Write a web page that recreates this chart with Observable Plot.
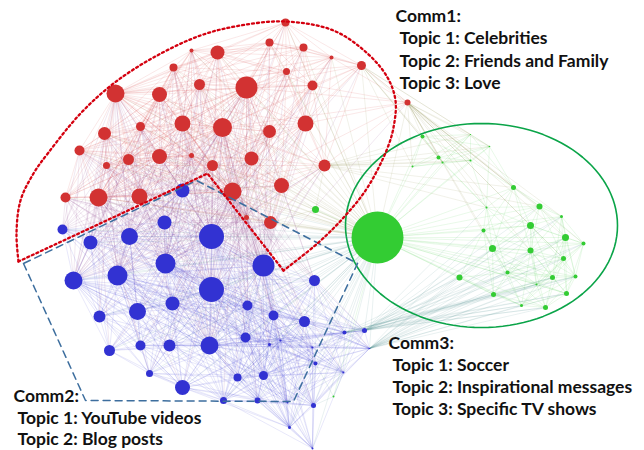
<!DOCTYPE html>
<html><head><meta charset="utf-8">
<script src="https://cdn.jsdelivr.net/npm/d3@7"></script>
<script src="https://cdn.jsdelivr.net/npm/@observablehq/plot@0.6"></script>
<style>body{margin:0;background:#fff}</style>
</head><body><div id="chart"></div>
<script>
// Node layout [x, y, radius] (pixel space of the 644x450 figure)
const comm1Nodes = [[285,22,4],[269,42,4],[303,47,4],[191,50,2],[217,52,7],[331,57,2],[361,65,4.5],[173,67,4],[286,71,3.5],[246,87,11],[199,84,5.5],[312,85,5],[115,93,9],[159,94,7.5],[407,102,3],[182,123,8],[222,127,9.5],[305,123,8],[269,131,6.5],[140,126,4.5],[104,133,6.5],[79,150,5],[128,159,5.5],[159,156,7.5],[191,155,2.5],[212,165,5.5],[251,158,7],[324,165,6],[106,165,3.5],[65,197,5],[98,197,9],[139,196,8],[232,191,9],[281,185,7.5],[246,217,2.5],[270,222,6.5]];
const comm2Nodes = [[182,190,7],[62,229,5],[164,222,7],[90,242,7],[129,236,8.5],[211,236,12.5],[165,263,10],[263,265,11],[117,275,10],[73,280,9],[211,289,12.5],[314,280,5.5],[99,316,6],[137,311,8.5],[172,303,7],[247,305,5],[273,315,5],[304,321,5.5],[109,350,5.5],[140,345,5],[169,345,6],[209,345,9],[245,337,5],[149,373,3.5],[182,387,7.5],[237,377,4],[263,375,4.5],[223,400,3.5],[257,400,3],[313,405,2.5],[344,332,2],[364,330,2.5],[269,344,1.5],[280,340,1],[315,363,2],[343,372,1],[312,347,1],[287,402,1],[289,427,1.5],[312,448,1],[369,348,0.8]];
const comm3Nodes = [[377,237,26],[315,209,3.5],[422,136,2],[438,157,2],[412,166,1],[442,162,1],[470,160,1],[489,146,0.8],[470,134,0.6],[513,187,2.5],[539,206,3],[486,207,1],[561,216,1.5],[530,225,3.5],[483,230,2],[565,237,3.5],[583,243,2],[492,248,3.5],[530,250,3],[563,258,2.5],[507,272,2],[552,277,2.5],[575,276,2],[459,277,3],[536,284,1],[493,294,2.5],[566,293,2.5],[521,305,1.5],[545,307,2.5],[333,396,1]];

const commColors = ["#d23232", "#3232d2", "#33cc33"];

// Community outlines
const comm1Arc = [[18,261],[16,233],[20,200],[33,173],[48,152],[80,113],[113,83],[153,57],[200,35],[240,25],[285,21],[333,30],[367,53],[387,77],[395,100],[393,127],[386,150],[367,187],[345,215],[318,242],[283,270]];
const comm1Notch = [[283,270],[207,173],[18,261]];
const comm2Outline = [[23,263],[85,400],[293,401],[357,263],[196,180],[23,263]];
const comm3Ellipse = {cx: 481, cy: 225, rx: 136, ry: 102};

// Label text
const comm1Lines = ["Comm1:", "Topic 1: Celebrities", "Topic 2: Friends and Family", "Topic 3: Love"];
const comm2Lines = ["Comm2:", "Topic 1: YouTube videos", "Topic 2: Blog posts"];
const comm3Lines = ["Comm3:", "Topic 1: Soccer", "Topic 2: Inspirational messages", "Topic 3: Specific TV shows"];

// ---- build tables ----
const nodes = [];
[comm1Nodes, comm2Nodes, comm3Nodes].forEach((arr, c) => arr.forEach(([x, y, r]) => nodes.push({x, y, r, c})));
const dist = (a, b) => Math.hypot(a.x - b.x, a.y - b.y);
const mix = (a, b) => d3.interpolateRgb(commColors[a.c], commColors[b.c])(0.5);
const edgeSet = new Set();
const edges = [];
function addEdge(i, j) {
  if (i === j) return;
  const k = i < j ? i + "-" + j : j + "-" + i;
  if (edgeSet.has(k)) return;
  edgeSet.add(k);
  const a = nodes[i], b = nodes[j];
  edges.push({x1: a.x, y1: a.y, x2: b.x, y2: b.y, stroke: mix(a, b)});
}
const hub = nodes.findIndex(n => n.c === 2 && n.r > 20);
nodes.forEach((a, i) => {
  nodes.forEach((b, j) => {
    if (j <= i) return;
    const d = dist(a, b);
    const main = a.c < 2 && b.c < 2;
    if (main && d < 115) addEdge(i, j);
    if (main && (a.r >= 9 || b.r >= 9) && d < 230) addEdge(i, j);
    if (a.c === 2 && b.c === 2 && d < 70) addEdge(i, j);
  });
});
nodes.forEach((a, i) => { if (i !== hub && dist(a, nodes[hub]) < 330) addEdge(i, hub); });
nodes.forEach((a, i) => {
  if (a.c !== 2 || i === hub) return;
  nodes.map((b, j) => ({j, d: b.c < 2 ? dist(a, b) : Infinity}))
    .sort((p, q) => p.d - q.d).slice(0, 3).forEach(p => addEdge(i, p.j));
});

const ellipsePts = d3.range(0, 361, 3).map(t => {
  const a = t * Math.PI / 180;
  return [comm3Ellipse.cx + comm3Ellipse.rx * Math.cos(a), comm3Ellipse.cy + comm3Ellipse.ry * Math.sin(a)];
});

function labelRows(lines, x, y, dy) {
  return lines.map((t, i) => ({text: t, x: i === 0 ? x : x + 4, y: y + i * dy, head: i === 0}));
}
const labels = [
  ...labelRows(comm1Lines, 395, 15.5, 22.5),
  ...labelRows(comm2Lines, 13, 396, 21.5),
  ...labelRows(comm3Lines, 388, 342.5, 22)
];

const chart = Plot.plot({
  width: 644, height: 450, margin: 0,
  x: {domain: [0, 644], range: [0, 644], axis: null},
  y: {domain: [0, 450], range: [0, 450], axis: null},
  r: {type: "identity"},
  style: {background: "#fff"},
  marks: [
    Plot.link(edges, {x1: "x1", y1: "y1", x2: "x2", y2: "y2", stroke: "stroke", strokeOpacity: 0.16, strokeWidth: 0.7}),
    Plot.dot(nodes.filter(n => n.c === 2), {x: "x", y: "y", r: "r", fill: commColors[2]}),
    Plot.dot(nodes.filter(n => n.c === 1), {x: "x", y: "y", r: "r", fill: commColors[1]}),
    Plot.dot(nodes.filter(n => n.c === 0), {x: "x", y: "y", r: "r", fill: commColors[0]}),
    Plot.line(ellipsePts, {x: d => d[0], y: d => d[1], stroke: "#0aa448", strokeWidth: 1.6}),
    Plot.line(comm2Outline, {x: d => d[0], y: d => d[1], stroke: "#3d6e9e", strokeWidth: 1.5, strokeDasharray: "7,5"}),
    Plot.line(comm1Arc, {x: d => d[0], y: d => d[1], curve: "catmull-rom", stroke: "#d4000f", strokeWidth: 2.3, strokeDasharray: "2,3"}),
    Plot.line(comm1Notch, {x: d => d[0], y: d => d[1], stroke: "#d4000f", strokeWidth: 2.3, strokeDasharray: "2,3"}),
    Plot.text(labels, {x: "x", y: "y", text: "text", textAnchor: "start", fill: "#111", fontSize: 17.5, fontWeight: "bold", fontFamily: "Lato"})
  ]
});
document.getElementById("chart").appendChild(chart);
</script>
</body></html>
